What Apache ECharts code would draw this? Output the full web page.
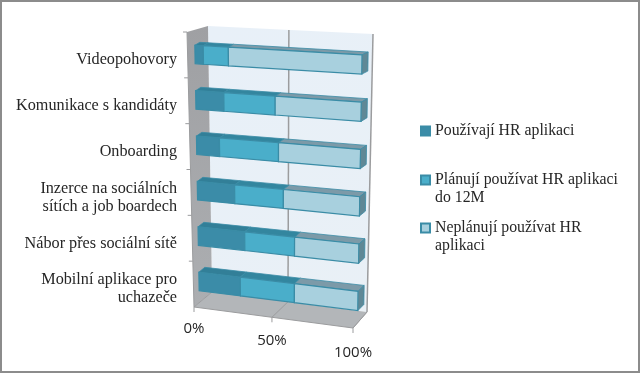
<!DOCTYPE html>
<html>
<head>
<meta charset="utf-8">
<style>
  html, body { margin: 0; padding: 0; background: #fff; }
  #chart { width: 640px; height: 373px; }
</style>
<script src="https://cdn.jsdelivr.net/npm/echarts@6/dist/echarts.min.js"></script>
</head>
<body>
<div id="chart"></div>
<script>
const categories = [
  'Videopohovory',
  'Komunikace s kandidáty',
  'Onboarding',
  'Inzerce na sociálních\nsítích a job boardech',
  'Nábor přes sociální sítě',
  'Mobilní aplikace pro\nuchazeče'
];
const seriesNames = [
  'Používají HR aplikaci',
  'Plánují používat HR aplikaci do 12M',
  'Neplánují používat HR aplikaci'
];
const legendLabels = [
  'Používají HR aplikaci',
  ' \nPlánují používat HR aplikaci\ndo 12M',
  ' \nNeplánují používat HR\naplikaci'
];
const usingApp = [5, 17, 14, 23, 29, 26];
const planningApp = [15, 31, 36, 30, 31, 34];
const notPlanningApp = [80, 52, 50, 47, 40, 40];
const valueTicks = [0, 50, 100];
const valueTickLabels = ['0%', '50%', '100%'];

const faceColors = [
  { front: '#3b8ca8', top: '#327f98' },
  { front: '#4aaeca', top: '#33869f' },
  { front: '#a8d0de', top: '#7c9aa8' }
];
const edgeColor = '#3a8ca6';
const sideColor = '#5f8896';

const gridBox = { left: 186, top: 37, width: 168, height: 275 };

// corners are [top-left, top-right, bottom-left, bottom-right] on screen
const boxFront = [[187, 32], [360, 41], [194, 307], [353, 328]];
const boxBack = [[208, 26], [373, 34], [212, 292], [367, 312]];
const barFront = [[194.6, 31.8], [362.4, 40.8], [199.4, 304.2], [357.6, 324.6]];
const barBack = [[199.5, 29], [368.4, 38.2], [205.5, 299], [363.6, 318.3]];
const barHalfHeight = 0.034;

function lerp(a, b, t) {
  return [a[0] + (b[0] - a[0]) * t, a[1] + (b[1] - a[1]) * t];
}

// u runs along the value axis, w down the categories, d from front to back
function project(front, back, u, w, d) {
  const f = lerp(lerp(front[0], front[1], u), lerp(front[2], front[3], u), w);
  const b = lerp(lerp(back[0], back[1], u), lerp(back[2], back[3], u), w);
  return lerp(f, b, d);
}

function toUnit(pt) {
  return [(pt[0] - gridBox.left) / gridBox.width, (pt[1] - gridBox.top) / gridBox.height];
}

function poly(points, fill, stroke, lineWidth) {
  return {
    type: 'polygon',
    shape: { points: points },
    style: { fill: fill, stroke: stroke || null, lineWidth: lineWidth || 1 }
  };
}

function line(a, b, stroke, lineWidth) {
  return {
    type: 'line',
    shape: { x1: a[0], y1: a[1], x2: b[0], y2: b[1] },
    style: { stroke: stroke, lineWidth: lineWidth || 1 }
  };
}

function renderBox(params, api) {
  const gridGray = '#9b9c9e';
  const wall = {
    type: 'linear', x: 0, y: 0, x2: 1, y2: 1,
    colorStops: [{ offset: 0, color: '#e8f0f8' }, { offset: 1, color: '#e9f0f6' }]
  };
  const side = {
    type: 'linear', x: 0, y: 0, x2: 0, y2: 1,
    colorStops: [{ offset: 0, color: '#9fa0a3' }, { offset: 1, color: '#acaeb1' }]
  };
  const children = [
    poly([boxBack[0], boxBack[1], boxBack[3], boxBack[2]], wall),
    poly([boxFront[0], boxBack[0], boxBack[2], boxFront[2]], side),
    poly([boxFront[2], boxBack[2], boxBack[3], boxFront[3]], '#b3b6b9'),
    line(boxFront[0], boxFront[2], gridGray),
    line(boxFront[2], boxFront[3], gridGray),
    line(boxBack[3], boxFront[3], '#a6a8aa')
  ];
  valueTicks.forEach((tick, i) => {
    let u = toUnit(api.coord([tick, 0]))[0];
    // the wall recedes to the left, so the middle of the scale sits a bit left of centre
    u = u / (1 + 0.04 * (1 - u));
    const backTop = project(boxFront, boxBack, u, 0, 1);
    const backBottom = project(boxFront, boxBack, u, 1, 1);
    const frontBottom = project(boxFront, boxBack, u, 1, 0);
    if (tick > 0) {
      children.push(line(backTop, backBottom, gridGray, 1.5));
    }
    children.push(line(backBottom, frontBottom, gridGray));
    children.push(line(frontBottom, [frontBottom[0], frontBottom[1] + 5], gridGray));
    children.push({
      type: 'text',
      style: {
        text: valueTickLabels[i],
        x: frontBottom[0],
        y: frontBottom[1] + [22, 23, 25][i],
        align: 'center',
        verticalAlign: 'middle',
        fill: '#262626',
        font: '15px "Open Sans"'
      }
    });
  });
  categories.forEach((c, i) => {
    const p = project(boxFront, boxBack, 0, i / categories.length, 0);
    children.push(line([p[0] - 4, p[1]], p, gridGray));
  });
  return { type: 'group', children: children };
}

function renderSegment(seriesIndex) {
  return function (params, api) {
    const start = toUnit(api.coord([api.value(0), api.value(2)]));
    const end = toUnit(api.coord([api.value(1), api.value(2)]));
    const wTop = start[1] - barHalfHeight;
    const wBottom = start[1] + barHalfHeight;
    const p = (u, w, d) => project(barFront, barBack, u, w, d);
    const colors = faceColors[seriesIndex];
    const children = [
      poly([p(start[0], wTop, 1), p(end[0], wTop, 1), p(end[0], wTop, 0), p(start[0], wTop, 0)], colors.top, edgeColor, 0.8),
      poly([p(start[0], wTop, 0), p(end[0], wTop, 0), p(end[0], wBottom, 0), p(start[0], wBottom, 0)], colors.front, edgeColor, 1.2)
    ];
    if (seriesIndex === seriesNames.length - 1) {
      children.push(poly([p(end[0], wTop, 0), p(end[0], wTop, 1), p(end[0], wBottom, 1), p(end[0], wBottom, 0)], sideColor, edgeColor, 0.8));
    }
    return { type: 'group', children: children };
  };
}

const stacks = [usingApp, planningApp, notPlanningApp];
const barSeries = stacks.map((values, s) => ({
  name: seriesNames[s],
  type: 'custom',
  clip: false,
  silent: true,
  z: 2,
  itemStyle: { color: faceColors[s].front, borderColor: edgeColor, borderWidth: 1 },
  encode: { x: [0, 1], y: 2 },
  renderItem: renderSegment(s),
  data: values.map((v, i) => {
    let before = 0;
    for (let k = 0; k < s; k++) before += stacks[k][i];
    return [before, before + v, i];
  })
}));

const legendTops = [122, 153, 201];
const legends = seriesNames.map((name, i) => ({
  data: [name],
  orient: 'vertical',
  left: 420,
  top: legendTops[i],
  padding: 0,
  icon: 'rect',
  itemWidth: 9,
  itemHeight: 9,
  selectedMode: false,
  formatter: () => legendLabels[i],
  textStyle: { fontFamily: 'Liberation Serif', fontSize: 15.8, lineHeight: 18, color: '#262626' }
}));

const chart = echarts.init(document.getElementById('chart'), null, { renderer: 'canvas' });
chart.setOption({
  animation: false,
  backgroundColor: '#fff',
  legend: legends,
  grid: gridBox,
  xAxis: { type: 'value', min: 0, max: 100, interval: 50, show: false },
  yAxis: {
    type: 'category',
    inverse: true,
    data: categories,
    axisLine: { show: false },
    axisTick: { show: false },
    axisLabel: {
      margin: 9,
      align: 'right',
      interval: 0,
      fontFamily: 'Liberation Serif',
      fontSize: 16.2,
      lineHeight: 18,
      color: '#262626'
    }
  },
  graphic: [{
    type: 'rect',
    z: 0,
    silent: true,
    shape: { x: 1, y: 1, width: 638, height: 371 },
    style: { fill: 'none', stroke: '#8c8c8c', lineWidth: 2 }
  }],
  series: [{
    name: 'box',
    type: 'custom',
    clip: false,
    silent: true,
    renderItem: renderBox,
    data: [[0]],
    z: 1
  }].concat(barSeries)
});
</script>
</body>
</html>
